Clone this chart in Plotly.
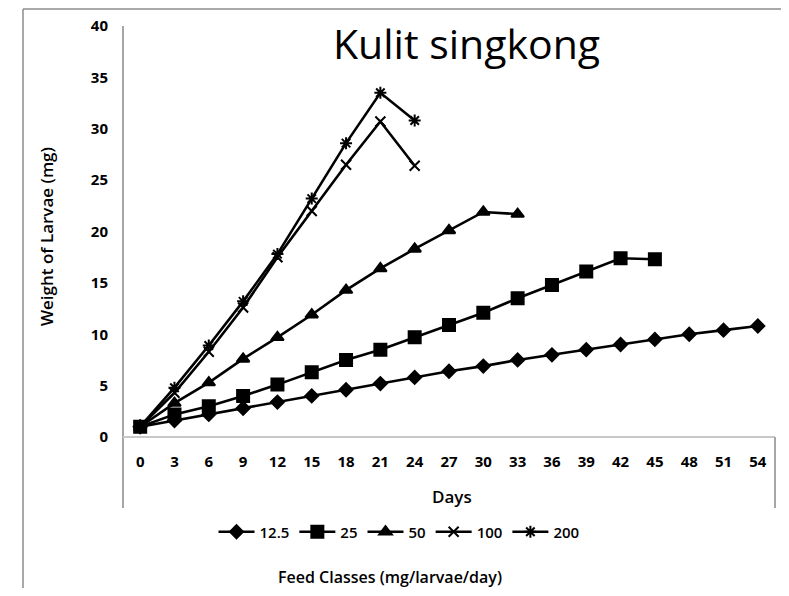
import plotly.graph_objects as go

days = [0, 3, 6, 9, 12, 15, 18, 21, 24, 27, 30, 33, 36, 39, 42, 45, 48, 51, 54]
y_ticks = [0, 5, 10, 15, 20, 25, 30, 35, 40]

feed_12_5 = [1.0, 1.6, 2.2, 2.8, 3.4, 4.0, 4.6, 5.2, 5.8, 6.4, 6.9, 7.5, 8.0, 8.5, 9.0, 9.5, 10.0, 10.4, 10.8]
feed_25 = [1.0, 2.2, 3.0, 4.0, 5.1, 6.3, 7.5, 8.5, 9.7, 10.9, 12.1, 13.5, 14.8, 16.1, 17.4, 17.3]
feed_50 = [1.0, 3.3, 5.3, 7.6, 9.7, 11.9, 14.3, 16.4, 18.3, 20.1, 21.9, 21.7]
feed_100 = [1.0, 4.3, 8.3, 12.6, 17.5, 22.0, 26.5, 30.7, 26.4]
feed_200 = [1.0, 4.8, 8.9, 13.2, 17.8, 23.2, 28.6, 33.5, 30.8]

series = [
    ("12.5", feed_12_5, "diamond", 10),
    ("25", feed_25, "square", 12),
    ("50", feed_50, "triangle-up", 11),
    ("100", feed_100, "x-thin-open", 10),
    ("200", feed_200, "asterisk-open", 10),
]

FONT = "Open Sans"
fig = go.Figure()
for name, vals, sym, size in series:
    fig.add_trace(go.Scatter(
        x=days[:len(vals)], y=vals, name=name, mode="lines+markers",
        line=dict(color="black", width=2.6),
        marker=dict(symbol=sym, size=size, color="black",
                    line=dict(color="black", width=2)),
    ))

# page body adds an 8px offset; work in screen pixels and subtract it
OFF = 8
FW, FH = 789 - 2 * OFF, 596 - 2 * OFF
L, R, T, B = 123 - OFF, 775 - OFF, 26 - OFF, 437 - OFF
W, H = R - L, B - T

def px(x):
    return (x - OFF - L) / W

def py(y):
    return (B - (y - OFF)) / H

shapes = [
    dict(type="line", xref="paper", yref="paper", x0=px(23), x1=px(900), y0=py(9), y1=py(9),
         line=dict(color="#8c8c8c", width=1.5), layer="below"),
    dict(type="line", xref="paper", yref="paper", x0=px(23), x1=px(23), y0=py(700), y1=py(9),
         line=dict(color="#8c8c8c", width=1.5), layer="below"),
    dict(type="line", xref="paper", yref="paper", x0=0, x1=0, y0=py(508), y1=1,
         line=dict(color="#a6a6a6", width=2), layer="below"),
    dict(type="line", xref="paper", yref="paper", x0=0, x1=1, y0=0, y1=0,
         line=dict(color="#c8c8c8", width=2), layer="below"),
    dict(type="line", xref="paper", yref="paper", x0=1, x1=1, y0=py(508), y1=0,
         line=dict(color="#a6a6a6", width=2), layer="below"),
]

annotations = [
    dict(text="Kulit singkong", xref="paper", yref="paper", x=px(467), y=py(43),
         showarrow=False, font=dict(family=FONT, size=41, color="black"),
         xanchor="center", yanchor="middle"),
    dict(text="Weight of Larvae (mg)", xref="paper", yref="paper", x=px(47), y=py(237),
         showarrow=False, textangle=-90, font=dict(family=FONT, size=17, color="black", weight=600),
         xanchor="center", yanchor="middle"),
    dict(text="Days", xref="paper", yref="paper", x=px(452), y=py(496),
         showarrow=False, font=dict(family=FONT, size=17, color="black", weight=600),
         xanchor="center", yanchor="middle"),
    dict(text="Feed Classes (mg/larvae/day)", xref="paper", yref="paper", x=px(390), y=py(577),
         showarrow=False, font=dict(family=FONT, size=16, color="black", weight=600),
         xanchor="center", yanchor="middle"),
]

fig.update_layout(
    width=FW, height=FH,
    margin=dict(l=L, r=FW - R, t=T, b=FH - B, autoexpand=False),
    paper_bgcolor="white", plot_bgcolor="white",
    showlegend=True,
    legend=dict(orientation="h", x=px(399), y=py(532), xanchor="center", yanchor="middle",
                font=dict(family=FONT, size=15, color="black", weight=600),
                itemwidth=36, tracegroupgap=0, bgcolor="rgba(0,0,0,0)"),
    shapes=shapes,
    annotations=annotations,
    xaxis=dict(range=[-1.5, 55.5], tickmode="array", tickvals=days,
               ticktext=[str(d) for d in days], showgrid=False, zeroline=False,
               showline=False, ticks="", ticklabelstandoff=14,
               tickfont=dict(family=FONT, size=15, color="black", weight="bold")),
    yaxis=dict(range=[0, 40], tickmode="array", tickvals=y_ticks,
               showgrid=False, zeroline=False, showline=False, ticks="",
               ticklabelstandoff=14,
               tickfont=dict(family=FONT, size=15, color="black", weight="bold")),
)

fig.write_html("out.html")
